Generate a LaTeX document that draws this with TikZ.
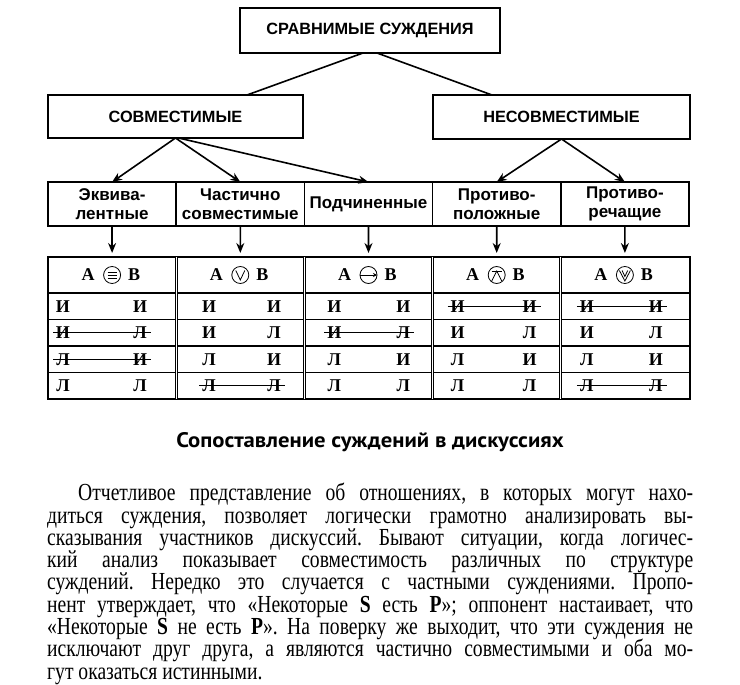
\documentclass[tikz,border=0pt]{standalone}
\usepackage{fontspec}
\setmainfont{Liberation Serif}
\setsansfont{Liberation Sans}
\newfontfamily\parafont[FakeStretch=0.8]{Liberation Serif}
\newfontfamily\titlefont[FakeStretch=1.08]{PT Sans}
\usetikzlibrary{positioning, arrows.meta}

\begin{document}
\begin{tikzpicture}[
    x=1pt, y=-1pt,
    box/.style={
        rectangle,
        draw,
        line width=1.6pt,
        outer sep=0pt,
        inner sep=0pt,
        align=center,
        font=\sffamily\bfseries\fontsize{16.3}{19}\selectfont
    },
    kind/.style={
        box,
        minimum width=128.2pt,
        minimum height=44pt,
        font=\sffamily\bfseries\fontsize{17}{19}\selectfont
    },
    arrow/.style={
        -{Stealth[length=10pt, width=8pt]},
        line width=1.6pt
    },
    head/.style={
        minimum width=128.2pt,
        minimum height=36pt,
        inner sep=0pt,
        outer sep=0pt
    },
    val/.style={
        font=\bfseries\fontsize{18}{18}\selectfont,
        inner sep=0pt
    },
    op/.style={
        circle,
        draw,
        line width=0.8pt,
        minimum size=17pt,
        inner sep=0pt
    },
    thin line/.style={line width=0.8pt}
]

\useasboundingbox[fill=white] (0,0) rectangle (740,685);

\node[box, minimum width=260pt, minimum height=45pt] (root) at (370,30.5) {СРАВНИМЫЕ СУЖДЕНИЯ};

\node[box, minimum width=255pt, minimum height=43pt] (comp) at (175.5,116.5) {СОВМЕСТИМЫЕ};

\node[box, minimum width=257pt, minimum height=44pt] (incomp) at (561.5,117) {НЕСОВМЕСТИМЫЕ};

\node[kind] (equiv) at (112.1,204) {Эквива-\\лентные};
\node[kind, right=0pt of equiv] (partial) {Частично\\совместимые};
\node[kind, right=0pt of partial] (sub) {Подчиненные};
\node[kind, right=0pt of sub] (contrary) {Противо-\\положные};
\node[kind, right=0pt of contrary] (contradict) {Противо-\\речащие};

\draw[line width=1.6pt] ([xshift=-7pt]root.south) -- ([xshift=71.5pt]comp.north);
\draw[line width=1.6pt] ([xshift=7pt]root.south) -- ([xshift=-69.5pt]incomp.north);

\draw[arrow] (comp.south) -- (equiv.north);
\draw[arrow] (comp.south) -- (partial.north);
\draw[arrow] ([xshift=3pt]comp.south) -- (sub.north);
\draw[arrow] (incomp.south) -- (contrary.north);
\draw[arrow] (incomp.south) -- (contradict.north);

\draw[line width=1.8pt] (48,257) rectangle (690,399);
\foreach \y in {293,319.5,346,372.5}
    \draw[line width=1.4pt] (48,\y) -- (690,\y);
\foreach \x in {176.2,304.4,432.6,560.8}
    \draw[double, double distance=1.2pt, line width=0.8pt] (\x,257) -- (\x,399);

\foreach \name [count=\i] in {equiv,partial,sub,contrary,contradict} {
    \node[head] (head\i) at ({112.1+128.2*(\i-1)},275) {};
    \draw[arrow, shorten >=4pt] (\name.south) -- (head\i.north);
    \node[val] (a\i) at ([xshift=-24pt]head\i.center) {A};
    \node[op] (s\i) at (head\i.center) {};
    \node[val] (b\i) at ([xshift=22pt]head\i.center) {B};
}

\begin{scope}[shift={(s1.center)}, thin line]
    \foreach \dy in {-3,0,3}
        \draw (-4.5,\dy) -- (4.5,\dy);
\end{scope}
\begin{scope}[shift={(s2.center)}, thin line]
    \draw (-4.5,-4.5) -- (0,5) -- (4.5,-4.5);
\end{scope}
\begin{scope}[shift={(s3.center)}, thin line]
    \draw[-{Stealth[length=4pt, width=4pt]}] (-8.5,0) -- (8.5,0);
\end{scope}
\begin{scope}[shift={(s4.center)}, thin line]
    \draw (-5,-4) -- (5,-4);
    \draw (-5,6) -- (0,-4) -- (5,6);
\end{scope}
\begin{scope}[shift={(s5.center)}, thin line]
    \draw (-5.5,-4.5) -- (0,6) -- (5.5,-4.5);
    \draw (-2.8,-4.5) -- (0,1.5) -- (2.8,-4.5);
\end{scope}

\foreach \i/\lx/\rx in {1/15/92,2/33/98,3/30/99,4/25/97,5/26/95}
    \foreach \r/\lv/\rv in {1/И/И,2/И/Л,3/Л/И,4/Л/Л} {
        \node[val] (l\i-\r) at ({48+128.2*(\i-1)+\lx},{279.75+26.5*\r}) {\lv};
        \node[val] (r\i-\r) at ({48+128.2*(\i-1)+\rx},{279.75+26.5*\r}) {\rv};
    }

\draw[thin line] ([xshift=-10pt]l1-2.center) -- ([xshift=11pt]r1-2.center);
\draw[thin line] ([xshift=-10pt]l1-3.center) -- ([xshift=11pt]r1-3.center);
\draw[thin line] ([xshift=-10pt]l2-4.center) -- ([xshift=11pt]r2-4.center);
\draw[thin line] ([xshift=-10pt]l3-2.center) -- ([xshift=11pt]r3-2.center);
\draw[thin line] ([xshift=-10pt]l4-1.center) -- ([xshift=11pt]r4-1.center);
\draw[thin line] ([xshift=-10pt]l5-1.center) -- ([xshift=11pt]r5-1.center);
\draw[thin line] ([xshift=-10pt]l5-4.center) -- ([xshift=11pt]r5-4.center);

\node[font=\titlefont\bfseries\fontsize{21}{24}\selectfont] (title) at (370,442) {Сопоставление суждений в дискуссиях};

\node[anchor=north west, inner sep=0pt, text width=646pt, align=justify,
      font={\parafont\fontsize{24.5}{22.3}\selectfont\lineskiplimit=-20pt\frenchspacing}] (para) at (47,483) {%
\spaceskip=0pt\xspaceskip=0pt
\hspace*{31pt}\makebox[\dimexpr\linewidth-31pt][s]{Отчетливое представление об отношениях, в которых могут нахо-}\\
\makebox[\linewidth][s]{диться суждения, позволяет логически грамотно анализировать вы-}\\
\makebox[\linewidth][s]{сказывания участников дискуссий. Бывают ситуации, когда логичес-}\\
\makebox[\linewidth][s]{кий анализ показывает совместимость различных по структуре}\\
\makebox[\linewidth][s]{суждений. Нередко это случается с частными суждениями. Пропо-}\\
\makebox[\linewidth][s]{нент утверждает, что «Некоторые {\bfseries S} есть {\bfseries P}»; оппонент настаивает, что}\\
\makebox[\linewidth][s]{«Некоторые {\bfseries S} не есть {\bfseries P}». На поверку же выходит, что эти суждения не}\\
\makebox[\linewidth][s]{исключают друг друга, а являются частично совместимыми и оба мо-}\\
гут оказаться истинными.\par};

\end{tikzpicture}
\end{document}
